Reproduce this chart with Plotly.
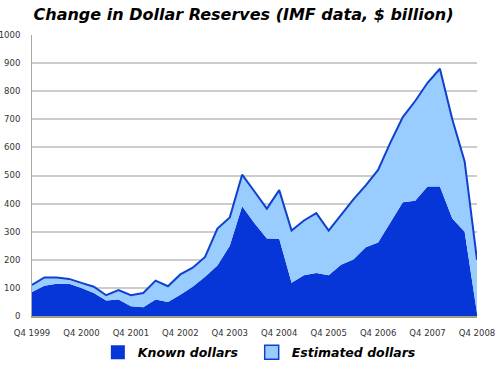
import plotly.graph_objects as go

# Quarter categories Q4 1999 .. Q4 2008
quarters = ["Q4 1999"] + [f"Q{q} {y}" for y in range(2000, 2009) for q in (1, 2, 3, 4)]
tick_labels = [f"Q4 {y}" for y in range(1999, 2009)]

# Known dollars (change, $ billion)
known = [85, 108, 115, 115, 100, 82, 55, 59, 35, 31,
         59, 50, 76, 104, 140, 180, 250, 391, 330, 276,
         275, 118, 145, 153, 145, 182, 201, 245, 262, 332,
         405, 410, 461, 461, 347, 300, 10]

# Total (known + estimated)
total = [111, 137, 137, 132, 118, 104, 74, 92, 74, 82,
         126, 106, 148, 172, 210, 311, 351, 503, 443, 382,
         448, 304, 340, 366, 304, 361, 415, 465, 520, 618,
         708, 765, 830, 880, 700, 550, 200]

estimated = [t - k for t, k in zip(total, known)]

DARK = "#0636d8"
LIGHT = "#99ccff"
LINE = "#1040d0"

fig = go.Figure()
fig.add_trace(go.Scatter(
    x=quarters, y=known, stackgroup="one", mode="lines",
    line=dict(width=0, color=DARK), fillcolor=DARK,
    name="Known dollars", showlegend=False))
fig.add_trace(go.Scatter(
    x=quarters, y=estimated, stackgroup="one", mode="lines",
    line=dict(width=2, color=LINE), fillcolor=LIGHT,
    name="Estimated dollars", showlegend=False))

# legend entries
fig.add_trace(go.Scatter(
    x=[None], y=[None], mode="markers", name="Known dollars\u00a0\u00a0",
    marker=dict(symbol="square", size=14, color=DARK, line=dict(width=0))))
fig.add_trace(go.Scatter(
    x=[None], y=[None], mode="markers", name="Estimated dollars",
    marker=dict(symbol="square", size=14, color=LIGHT, line=dict(width=1.5, color=LINE))))

fig.update_layout(
    width=500, height=367,
    margin=dict(l=32, r=23, t=35, b=50.5, autoexpand=False),
    paper_bgcolor="white", plot_bgcolor="white",
    hovermode=False,
    title=dict(text="<b><i>Change in Dollar Reserves (IMF data, $ billion)</i></b>",
               x=0.487, xref="container", xanchor="center",
               y=1 - 14 / 367, yref="container", yanchor="middle",
               font=dict(family="DejaVu Sans", size=16, color="black")),
    showlegend=True,
    legend=dict(orientation="h", traceorder="normal",
                x=0.148, xanchor="left", y=-0.13, yanchor="middle",
                font=dict(family="DejaVu Sans", size=12.5, color="black",
                          weight="bold", style="italic"),
                bgcolor="rgba(0,0,0,0)"),
    font=dict(family="DejaVu Sans", size=8.5, color="#333333"),
)

fig.update_xaxes(
    type="category", range=[0, 36], automargin=False,
    tickmode="array", tickvals=tick_labels, ticktext=tick_labels,
    showgrid=False, showline=True, linecolor="#a0a080", linewidth=1.5,
    ticks="", ticklabelstandoff=8, tickangle=0,
    tickfont=dict(family="DejaVu Sans", size=8.5, color="#333333"))
fig.update_yaxes(
    range=[0, 1000], dtick=100, tick0=0, automargin=False,
    showgrid=True, gridcolor="#cccccc", gridwidth=1.5,
    showline=True, linecolor="#a8a8a8", linewidth=1,
    zeroline=False, ticks="", ticklabelstandoff=9,
    tickfont=dict(family="DejaVu Sans", size=8.5, color="#333333"))

fig.write_html("out.html",
               config={"displayModeBar": False},
               post_script="document.body.style.margin='0';document.body.style.padding='0';")
